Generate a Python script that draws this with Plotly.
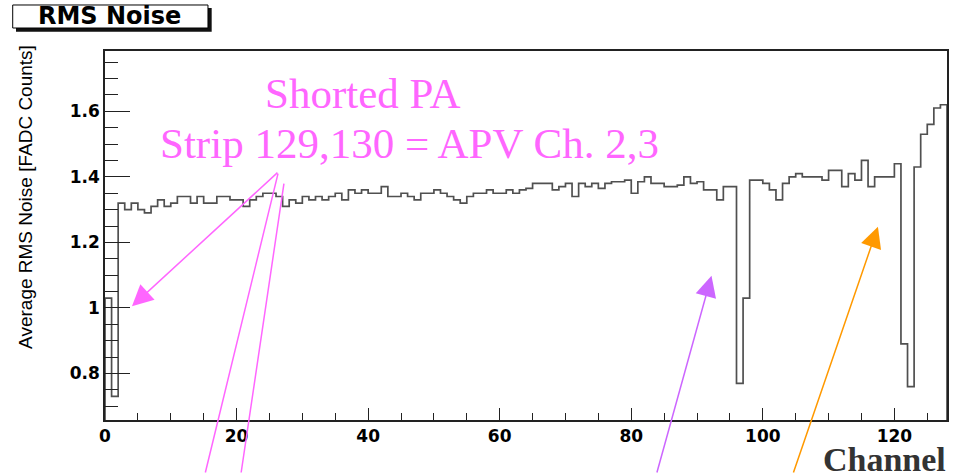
import numpy as np
import plotly.graph_objects as go

# Average RMS noise per channel (one value per bin, channels 0..127)
rms_noise = [
    1.03, 0.73, 1.32, 1.30, 1.32, 1.30, 1.29, 1.31, 1.33, 1.31,   # 0-9
    1.32, 1.34, 1.34, 1.32, 1.34, 1.32, 1.32, 1.34, 1.34, 1.33,   # 10-19
    1.33, 1.31, 1.33, 1.34, 1.35, 1.35, 1.34, 1.31, 1.33, 1.32,   # 20-29
    1.34, 1.33, 1.34, 1.33, 1.34, 1.35, 1.33, 1.36, 1.35, 1.36,   # 30-39
    1.35, 1.35, 1.37, 1.34, 1.34, 1.35, 1.34, 1.33, 1.35, 1.35,   # 40-49
    1.36, 1.35, 1.34, 1.33, 1.32, 1.34, 1.35, 1.35, 1.36, 1.35,   # 50-59
    1.35, 1.36, 1.35, 1.36, 1.365, 1.38, 1.38, 1.38, 1.36, 1.37,  # 60-69
    1.38, 1.34, 1.38, 1.37, 1.38, 1.365, 1.38, 1.385, 1.385, 1.39,  # 70-79
    1.35, 1.385, 1.40, 1.38, 1.38, 1.37, 1.37, 1.375, 1.40, 1.38,  # 80-89
    1.385, 1.36, 1.36, 1.33, 1.37, 1.37, 0.77, 1.03, 1.39, 1.39,  # 90-99
    1.38, 1.36, 1.33, 1.38, 1.40, 1.41, 1.40, 1.40, 1.40, 1.39,   # 100-109
    1.42, 1.42, 1.37, 1.41, 1.39, 1.45, 1.37, 1.40, 1.40, 1.40,   # 110-119
    1.44, 0.89, 0.76, 1.43, 1.53, 1.56, 1.61, 1.62,               # 120-127
]
n_channels = len(rms_noise)

x_range = [0, 128]
y_range = [0.658, 1.784]

x_tick_vals = [0, 20, 40, 60, 80, 100, 120]
x_tick_text = ["0", "20", "40", "60", "80", "100", "120"]
y_tick_vals = [0.8, 1.0, 1.2, 1.4, 1.6]
y_tick_text = ["0.8", "1", "1.2", "1.4", "1.6"]

plot_title = "RMS Noise"
y_title = "Average RMS Noise [FADC Counts]"
x_title = "Channel"
note_line1 = "Shorted PA"
note_line2 = "Strip 129,130 = APV Ch. 2,3"

# Histogram outline: rise from the frame floor, step through every bin, drop back down
edges = np.arange(n_channels + 1)
vals = np.array(rms_noise)
hx = np.concatenate([[edges[0]], edges, [edges[-1]]])
hy = np.concatenate([[y_range[0]], vals, [vals[-1]], [y_range[0]]])

fig = go.Figure()
fig.add_trace(go.Scatter(
    x=hx, y=hy, mode="lines",
    line=dict(shape="hv", color="#505050", width=1.7),
    hoverinfo="skip", showlegend=False,
))

axis_font = dict(family="DejaVu Sans", size=17, color="black", weight="bold")

fig.update_layout(
    width=965, height=474,
    margin=dict(l=105, r=18, t=51, b=54),
    paper_bgcolor="white", plot_bgcolor="white",
    showlegend=False,
    xaxis=dict(
        range=x_range, showgrid=False, zeroline=False,
        showline=True, linecolor="#222222", linewidth=1.5, mirror=True,
        tickmode="array", tickvals=x_tick_vals, ticktext=x_tick_text,
        ticks="inside", ticklen=12, tickwidth=1.2, tickcolor="#222222",
        minor=dict(tickmode="linear", tick0=0, dtick=5, ticks="inside",
                   ticklen=7, tickwidth=1.2, tickcolor="#222222"),
        tickfont=axis_font,
    ),
    yaxis=dict(
        range=y_range, showgrid=False, zeroline=False,
        showline=True, linecolor="#222222", linewidth=1.5, mirror=True,
        tickmode="array", tickvals=y_tick_vals, ticktext=y_tick_text,
        ticks="inside", ticklen=25, tickwidth=1.2, tickcolor="#222222",
        minor=dict(tickmode="linear", tick0=0.6, dtick=0.05, ticks="inside",
                   ticklen=13, tickwidth=1.2, tickcolor="#222222"),
        tickfont=axis_font,
    ),
)

# Title box with drop shadow
fig.add_shape(type="rect", xref="paper", yref="paper",
              x0=-0.1057, x1=0.1267, y0=1.0523, y1=1.1165,
              fillcolor="#111111", line=dict(width=0))
fig.add_shape(type="rect", xref="paper", yref="paper",
              x0=-0.1096, x1=0.1223, y0=1.0623, y1=1.1247,
              fillcolor="white", line=dict(color="black", width=1))
fig.add_annotation(text=plot_title, xref="paper", yref="paper",
                   x=0.0059, y=1.0935, xanchor="center", yanchor="middle",
                   showarrow=False,
                   font=dict(family="DejaVu Sans", size=24, color="black", weight="bold"))

# Axis titles
fig.add_annotation(text=y_title, xref="paper", yref="paper",
                   x=-0.0938, y=1.022, xanchor="center", yanchor="top",
                   textangle=-90, showarrow=False,
                   font=dict(family="Liberation Sans, Arial", size=19, color="black"))
fig.add_annotation(text=x_title, xref="paper", yref="paper",
                   x=1.001, y=-0.108, xanchor="right", yanchor="middle",
                   showarrow=False,
                   font=dict(family="Liberation Serif, Times New Roman", size=34, color="#333333", weight="bold"))

# Notes
magenta = "#ff66ff"
note_font = dict(family="Liberation Serif, Times New Roman", size=43, color=magenta)
fig.add_annotation(text=note_line1, xref="paper", yref="paper",
                   x=0.306, y=0.884, xanchor="center", yanchor="middle",
                   showarrow=False, font=note_font)
fig.add_annotation(text=note_line2, xref="paper", yref="paper",
                   x=0.362, y=0.75, xanchor="center", yanchor="middle",
                   showarrow=False, font=note_font)

# Arrows pointing at the low-noise channels
arrow_specs = [
    # (x, y, ax, ay, color, head)
    (4.1, 1.005, 147, -135, magenta, 2),
    (26.3, 1.41, -73, 301, magenta, 0),
    (27.2, 1.379, -43, 291, magenta, 0),
    (92.2, 1.098, -55, 199, "#cc66ff", 2),
    (117.5, 1.248, -85, 248, "#ff9900", 2),
]
for x, y, ax, ay, color, head in arrow_specs:
    fig.add_annotation(x=x, y=y, xref="x", yref="y", ax=ax, ay=ay,
                       text="", showarrow=True, arrowhead=head,
                       arrowsize=2.8, arrowwidth=1.5, arrowcolor=color,
                       standoff=0, startstandoff=0)

fig.write_html("out.html")
